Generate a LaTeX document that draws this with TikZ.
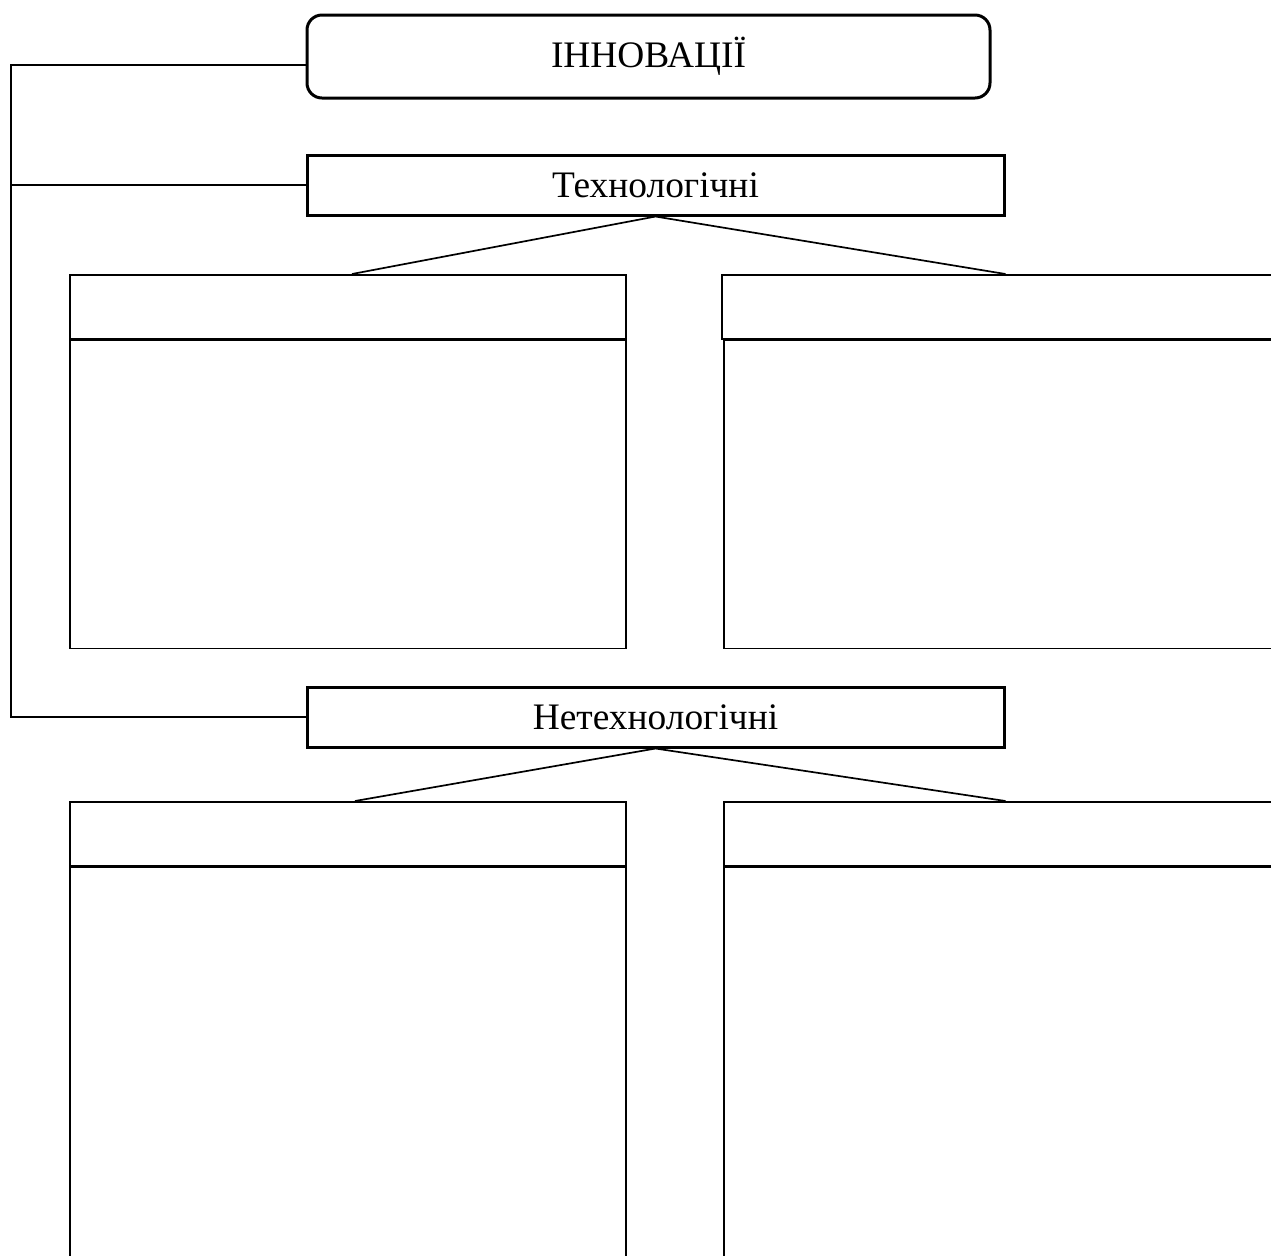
\documentclass[tikz,border=0pt]{standalone}
\usepackage{fontspec}
\setmainfont{Liberation Serif}
\usetikzlibrary{positioning}

\begin{document}
\begin{tikzpicture}[
    x=0.5pt, y=-0.5pt,
    font=\fontsize{18.7}{22}\selectfont,
    node distance=0pt,
    topbox/.style={
        draw,
        rounded corners=7.5pt,
        minimum width=341.5pt,
        minimum height=41.5pt,
        line width=1.5pt
    },
    kind/.style={
        draw,
        minimum width=348.5pt,
        minimum height=30pt,
        line width=1.5pt
    },
    head/.style={
        draw,
        minimum height=32pt,
        anchor=north west,
        line width=0.85pt
    },
    body/.style={
        draw,
        line width=0.85pt
    },
    link/.style={
        line width=0.85pt
    }
]
\clip (0,0) rectangle (1271,1255);

% Top level
\node[topbox] (innov) at (648.5,56.5) {ІННОВАЦІЇ};
\node[kind] (tech) at (655.5,185) {Технологічні};
\node[kind] (nontech) at (655.5,717) {Нетехнологічні};

\coordinate (rail) at (11,0);
\draw[link] ([yshift=-4.25pt]innov.west) -| (rail |- nontech.west) -- (nontech.west);
\draw[link] (tech.west) -- (tech.west -| rail);

% Technological
\node[head, minimum width=278pt] (hdA) at (69,274) {};
\node[body, minimum width=278pt, minimum height=154pt, below=of hdA] (bdA) {};
\node[head, minimum width=289.5pt] (hdB) at (721,274) {};
\node[body, minimum width=288.5pt, minimum height=154pt, below=of hdB.south west,
      anchor=north west, xshift=1pt] (bdB) {};

\draw[link] ([xshift=141.5pt]hdA.north west) -- (tech.south) -- (hdB.north -| tech.east);

% Non-technological
\node[head, minimum width=278pt] (hdC) at (69,801) {};
\node[body, minimum width=278pt, minimum height=207.5pt, below=of hdC] (bdC) {};
\node[head, minimum width=288.5pt] (hdD) at (723,801) {};
\node[body, minimum width=288.5pt, minimum height=207.5pt, below=of hdD] (bdD) {};

\draw[link] ([xshift=143pt]hdC.north west) -- (nontech.south) -- (hdD.north -| nontech.east);

\end{tikzpicture}
\end{document}
